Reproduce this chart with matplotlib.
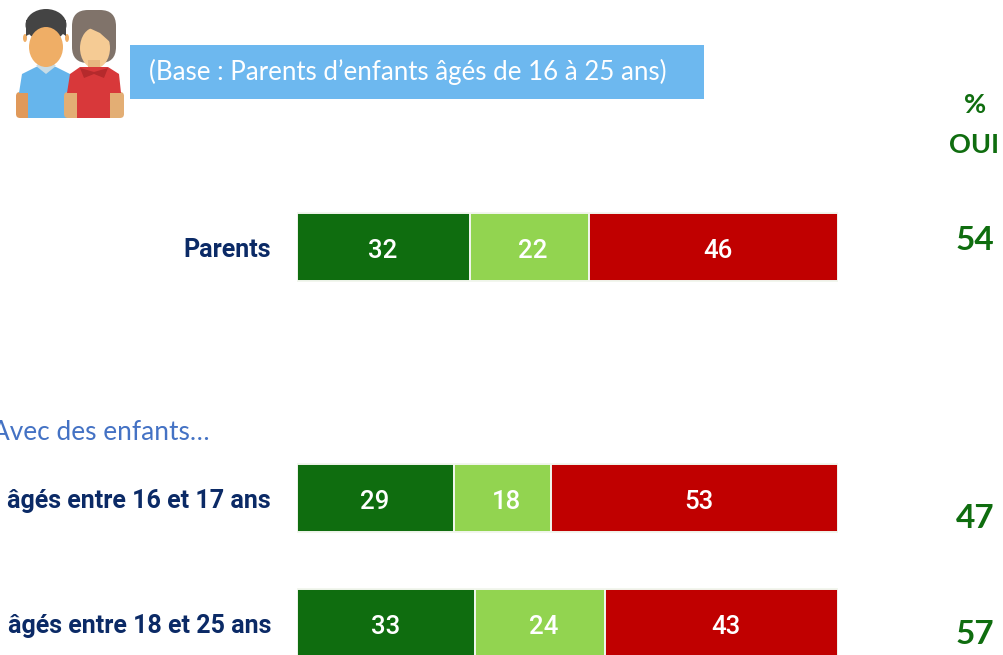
import matplotlib
matplotlib.use("Agg")
import matplotlib.pyplot as plt
from matplotlib.patches import Rectangle, Ellipse, Polygon, FancyBboxPatch

categories = ["Parents", "âgés entre 16 et 17 ans", "âgés entre 18 et 25 ans"]
dark_green = [32, 29, 33]
light_green = [22, 18, 24]
red = [46, 53, 43]
oui = [54, 47, 57]
base_text = "(Base : Parents d’enfants âgés de 16 à 25 ans)"
sub_text = "Avec des enfants…"
oui_head = ["%", "OUI"]

W, H = 1004, 655
fig = plt.figure(figsize=(W / 100, H / 100), dpi=100, facecolor="white")

# overlay in pixel coordinates
ov = fig.add_axes([0, 0, 1, 1])
ov.set_xlim(0, W)
ov.set_ylim(H, 0)
ov.axis("off")

# bar axes: x 0-100 spans 297..838 px; y in pixels
ax = fig.add_axes([296.5 / W, 0, (838 - 296.5) / W, 1])
ax.set_xlim(0, 100)
ax.set_ylim(H, 0)
ax.axis("off")
ax.patch.set_alpha(0)

row_y = [247, 498, 623]
row_h = 68
left = [0, 0, 0]
for vals, col, off in [(dark_green, "#0F6D0F", -0.1), (light_green, "#92D450", 0.7), (red, "#C00000", 0.85)]:
    ax.barh(row_y, vals, left=left, height=row_h, color=col, edgecolor="#F2F6EE", linewidth=1.4)
    for y, v, l in zip(row_y, vals, left):
        ax.text(l + v / 2 + off, y + 4, str(v), ha="center", va="center", color="white",
                fontsize=18.5, family="Roboto", fontweight="medium")
    left = [l + v for l, v in zip(left, vals)]

label_y = [250, 501, 626]
for y, c in zip(label_y, categories):
    ov.text(271, y, c, ha="right", va="center", color="#0B2A66", fontsize=18,
            family="Roboto", fontweight="bold")

for y, v in zip([241, 518, 634], oui):
    ov.text(975, y, str(v), ha="center", va="center", color="#0F6D0F", fontsize=24,
            family="Lato", fontweight="bold")
ov.text(975, 105, oui_head[0], ha="center", va="center", color="#0F6D0F", fontsize=19.5,
        family="Lato", fontweight="bold")
ov.text(974, 145, oui_head[1], ha="center", va="center", color="#0F6D0F", fontsize=19.5,
        family="Lato", fontweight="bold")

# header band
ov.add_patch(Rectangle((130, 45), 574, 54, color="#6DB8EF", lw=0))
ov.text(149, 72, base_text, ha="left", va="center", color="white", fontsize=18.6, family="Lato")
ov.text(-8, 433, sub_text, ha="left", va="center", color="#4472C4", fontsize=18.9, family="Lato", clip_on=True)

# icon
skin, skin2 = "#EFAE66", "#F5CB94"
# man
ov.add_patch(FancyBboxPatch((16, 92), 50, 26, boxstyle="round,pad=0,rounding_size=4", color="#E0995A", lw=0))
ov.add_patch(Polygon([(19, 93), (22, 74), (36, 67), (56, 67), (70, 74), (70, 118), (28, 118), (28, 93)], color="#66B5EC", lw=0))
ov.add_patch(Rectangle((40, 55), 12, 14, color="#E0995A", lw=0))
ov.add_patch(Polygon([(36, 66), (46, 74), (56, 66), (54, 64), (38, 64)], color="#C8DCE6", lw=0))
ov.add_patch(Ellipse((46, 25), 41, 32, color="#444444", lw=0))
ov.add_patch(Ellipse((25, 38), 4, 8, color=skin, lw=0))
ov.add_patch(Ellipse((67, 38), 4, 8, color=skin, lw=0))
ov.add_patch(Ellipse((46, 47), 34, 40, color=skin, lw=0))
ov.add_patch(Polygon([(26, 36), (30, 34), (33, 26), (60, 26), (63, 34), (66, 36), (66, 20), (26, 20)], color="#444444", lw=0))
# woman
ov.add_patch(FancyBboxPatch((72, 10), 44, 53, boxstyle="round,pad=0,rounding_size=16", color="#80736A", lw=0))
ov.add_patch(Ellipse((95, 48), 30, 41, color=skin2, lw=0))
ov.add_patch(Polygon([(87, 27), (79, 40), (74, 30), (95, 20), (113, 30), (110, 42), (100, 33)], color="#80736A", lw=0))
ov.add_patch(Rectangle((88, 60), 12, 12, color="#E8B680", lw=0))
ov.add_patch(FancyBboxPatch((64, 92), 60, 26, boxstyle="round,pad=0,rounding_size=4", color="#E3AE74", lw=0))
ov.add_patch(Polygon([(67, 93), (70, 74), (80, 67), (108, 67), (119, 74), (121, 93), (110, 93), (110, 118), (77, 118), (77, 93)], color="#D8383A", lw=0))
ov.add_patch(Polygon([(80, 68), (94, 72), (108, 68), (104, 78), (94, 74), (84, 78)], color="#B52A2C", lw=0))

fig.savefig("out.png", dpi=100)
